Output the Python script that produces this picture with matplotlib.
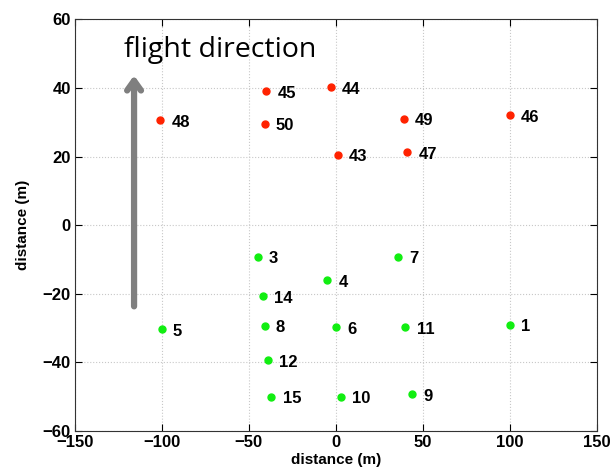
import matplotlib.pyplot as plt

# red points (upper group)
red_ids = [48, 45, 50, 44, 49, 46, 43, 47]
red_x = [-101, -40, -41, -3, 39, 100, 1, 41]
red_y = [30.6, 39.0, 29.6, 40.2, 31.1, 32.1, 20.6, 21.3]

# green points (lower group)
green_ids = [3, 14, 5, 8, 12, 15, 7, 4, 6, 11, 1, 10, 9]
green_x = [-45, -42, -100, -41, -39, -37, 36, -5, 0, 40, 100, 3, 44]
green_y = [-9.2, -20.7, -30.3, -29.3, -39.4, -50.1, -9.2, -16.1, -29.7, -29.7, -29.0, -50.1, -49.4]

# flight direction arrow (data coords)
arrow_x = -116
arrow_y0, arrow_y1 = -24.5, 44.5

plt.rcParams['font.family'] = ['Liberation Sans', 'DejaVu Sans']

fig = plt.figure(figsize=(6.14, 4.75), dpi=100)
ax = fig.add_axes([0.122, 0.093, 0.85, 0.866])

ax.plot(red_x, red_y, 'o', color='#ff2200', markersize=5, zorder=3)
ax.plot(green_x, green_y, 'o', color='#11ee11', markersize=5, zorder=3)

for ids, xs, ys in [(red_ids, red_x, red_y), (green_ids, green_x, green_y)]:
    for i, x, y in zip(ids, xs, ys):
        ax.annotate(str(i), (x, y), xytext=(8, -1.5), textcoords='offset points',
                    ha='left', va='center', fontsize=12, fontweight='bold')

ax.annotate('', xy=(arrow_x, arrow_y1), xytext=(arrow_x, arrow_y0),
            arrowprops=dict(arrowstyle='->,head_width=0.5,head_length=0.7',
                            color='#7f7f7f', lw=4.5))
ax.text(-122, 49, 'flight direction', fontsize=20.5, family=['Open Sans', 'DejaVu Sans'],
        ha='left', va='baseline')

ax.set_xlim(-150, 150)
ax.set_ylim(-60, 60)
ax.set_xticks(range(-150, 151, 50))
ax.set_yticks(range(-60, 61, 20))
ax.grid(True, linestyle=':', color='#c8c8c8', linewidth=0.8)
ax.tick_params(direction='in', top=True, right=True, length=5, labelsize=12, pad=3)
for lab in ax.get_xticklabels() + ax.get_yticklabels():
    lab.set_fontweight('bold')
for sp in ax.spines.values():
    sp.set_color('#333333')
ax.set_xlabel('distance (m)', fontsize=11, fontweight='bold', labelpad=2)
ax.set_ylabel('distance (m)', fontsize=11, fontweight='bold', labelpad=9)

fig.savefig('out.png', dpi=100)
